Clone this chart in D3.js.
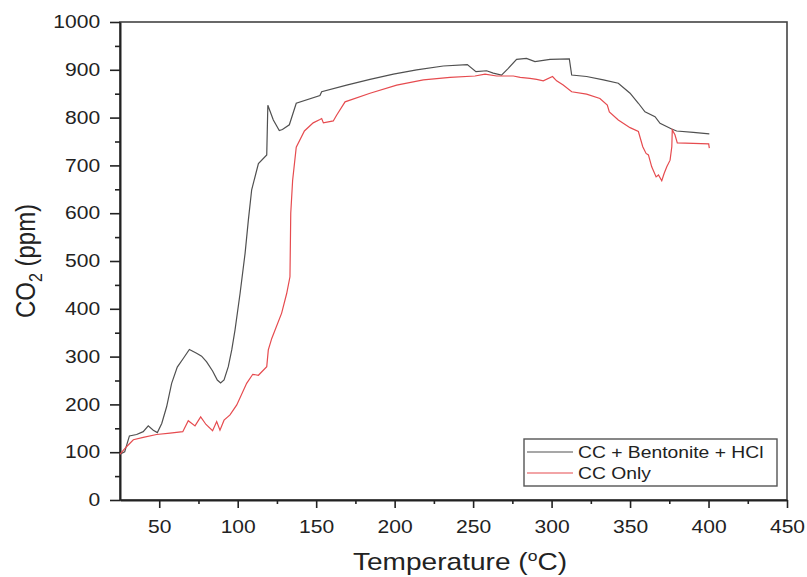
<!DOCTYPE html>
<html>
<head>
<meta charset="utf-8">
<script src="https://cdn.jsdelivr.net/npm/d3@7"></script>
<style>
  body { margin: 0; background: #fff; }
  text { font-family: "Liberation Sans", Arial, sans-serif; fill: #222; }
</style>
</head>
<body>
<div id="container"></div>
<script>
let w = 807;
let h = 577;
// text in the picture is a bit wider than normal Arial
let stretch = 1.17;

// CC + Bentonite + HCl (black)
let tempBH = [25, 28, 31, 35.6, 39.8, 43, 46.2, 48.8, 51.6, 54.7, 57.9, 61.5, 65.3, 69.2, 73.8, 77, 80.2, 84, 87, 89.1, 91.3, 94, 96.2, 98.3,
  101.5, 104.7, 106.8, 108.9, 113.2, 118.5, 119.2, 122.7, 126.5, 128.5, 132.9, 137.3, 152.4, 153.5, 169.4, 184.3, 199.2, 214, 231, 246.3,
  251.8, 258.6, 262.8, 268.1, 272.4, 277.7, 284, 289.4, 299, 311.3, 312.8, 322.3, 333, 342.5, 350, 355.3, 359.5, 365.9, 369.1, 376.5,
  379.7, 390.3, 400.5];
let co2BH = [96, 101, 134, 137, 143, 155, 146, 141, 160, 195, 244, 278, 296, 315, 307, 301, 289, 270, 251, 245, 251, 279, 314, 356,
  432, 516, 586, 649, 704, 722, 826, 795, 773, 775, 785, 830, 846, 854, 868, 880, 891, 900, 908, 911,
  896, 898, 893, 889, 903, 922, 924, 917, 922, 923, 889, 886, 879, 872, 851, 830, 812, 802, 788, 776,
  772, 769, 766];

// CC Only (red)
let tempCC = [25, 29.3, 33.5, 39.8, 48.3, 56.9, 65, 68.5, 72.8, 76.4, 79.8, 84, 86.6, 88.7, 91.3, 95.1, 99.4, 105.7, 109.6, 113.2, 118.5,
  119.5, 121.7, 128, 131.2, 133.3, 133.8, 135, 137.3, 142.5, 148.1, 152.4, 153.5, 154.6, 160.9, 163, 168.4, 184.3, 201.3, 218.3, 235.3,
  251.2, 257.6, 265, 275.6, 280, 286.2, 290.5, 294.7, 300.6, 303.2, 307.4, 312.8, 322.3, 330.8, 335.5, 336.8, 342.5, 350, 355.3, 358.1,
  360.2, 361.7, 363.8, 366.6, 368.1, 370.2, 371.7, 373.4, 375.5, 376.6, 376.9, 378.6, 380.1, 390.3, 400.1, 400.5];
let co2CC = [96, 112, 126, 131, 137, 140, 143, 166, 155, 174, 158, 145, 164, 146, 167, 178, 199, 244, 263, 261, 279,
  314, 338, 391, 432, 467, 600, 669, 738, 772, 789, 796, 798, 789, 793, 805, 833, 851, 868, 879, 884,
  887, 891, 887, 887, 884, 882, 880, 877, 886, 877, 868, 854, 849, 840, 826, 812, 795, 779, 771, 739,
  725, 722, 697, 676, 680, 668, 683, 697, 711, 739, 774, 764, 747, 746, 745, 736];

let seriesNames = ["CC + Bentonite + HCl", "CC Only"];
let seriesColors = ["#505050", "#e64b4f"];

let xTicks = [50, 100, 150, 200, 250, 300, 350, 400, 450];
let yTicks = [0, 100, 200, 300, 400, 500, 600, 700, 800, 900, 1000];

let padLeft = 120, padRight = 787, padTop = 22, padBottom = 500;

let viz = d3.select("#container").append("svg")
  .attr("width", w)
  .attr("height", h);

let xScale = d3.scaleLinear().domain([25, 450]).range([padLeft, padRight]);
let yScale = d3.scaleLinear().domain([0, 1000]).range([padBottom, padTop]);

// frame top / right
viz.append("rect")
  .attr("x", padLeft).attr("y", padTop)
  .attr("width", padRight - padLeft).attr("height", padBottom - padTop)
  .attr("fill", "none").attr("stroke", "#444").attr("stroke-width", 1.6);

// minor ticks
let xMinor = xTicks.map(d => d - 25).filter(d => d > 25);
let yMinor = yTicks.slice(0, -1).map(d => d + 50);
viz.append("g").attr("transform", "translate(0," + padBottom + ")")
  .call(d3.axisBottom(xScale).tickValues(xMinor).tickSize(4).tickFormat(""))
  .call(g => g.select(".domain").remove());
viz.append("g").attr("transform", "translate(" + padLeft + ",0)")
  .call(d3.axisLeft(yScale).tickValues(yMinor).tickSize(5).tickFormat(""))
  .call(g => g.select(".domain").remove());

// major axes
let xAxisGroup = viz.append("g").attr("transform", "translate(0," + padBottom + ")")
  .call(d3.axisBottom(xScale).tickValues(xTicks).tickSize(8).tickPadding(12).tickSizeOuter(0).tickFormat(d3.format("d")));
let yAxisGroup = viz.append("g").attr("transform", "translate(" + padLeft + ",0)")
  .call(d3.axisLeft(yScale).tickValues(yTicks).tickSize(10).tickPadding(7).tickSizeOuter(0).tickFormat(d3.format("d")));

viz.selectAll(".tick line").attr("stroke", "#222").attr("stroke-width", 1.6);
viz.selectAll(".domain").attr("stroke", "#222").attr("stroke-width", 2);
viz.selectAll(".tick text")
  .style("font-size", "18px")
  .attr("fill", "#222")
  .attr("transform", "scale(" + stretch + ",1)");

// lines
let line = d3.line().x(d => xScale(d[0])).y(d => yScale(d[1]));
let dataBH = tempBH.map((t, i) => [t, co2BH[i]]);
let dataCC = tempCC.map((t, i) => [t, co2CC[i]]);

viz.append("path").datum(dataBH).attr("d", line)
  .attr("fill", "none").attr("stroke", seriesColors[0]).attr("stroke-width", 1.2);
viz.append("path").datum(dataCC).attr("d", line)
  .attr("fill", "none").attr("stroke", seriesColors[1]).attr("stroke-width", 1.2);

// axis titles
let xTitle = viz.append("text")
  .attr("transform", "translate(460,570) scale(" + stretch + ",1)")
  .attr("text-anchor", "middle")
  .style("font-size", "24px");
xTitle.append("tspan").text("Temperature (");
xTitle.append("tspan").text("o").attr("dy", -9).style("font-size", "15px");
xTitle.append("tspan").text("C)").attr("dy", 9);

let yTitle = viz.append("text")
  .attr("transform", "translate(35,261) rotate(-90) scale(1," + stretch + ")")
  .attr("text-anchor", "middle")
  .style("font-size", "24px");
yTitle.append("tspan").text("CO");
yTitle.append("tspan").text("2").attr("dy", 6).style("font-size", "16px");
yTitle.append("tspan").text(" (ppm)").attr("dy", -6);

// legend
let legend = viz.append("g").attr("transform", "translate(524,439)");
legend.append("rect")
  .attr("width", 253).attr("height", 47)
  .attr("fill", "#fff").attr("stroke", "#555").attr("stroke-width", 1.4);
seriesNames.forEach((name, i) => {
  let yy = 13 + i * 21;
  legend.append("line")
    .attr("x1", 3).attr("x2", 49).attr("y1", yy).attr("y2", yy)
    .attr("stroke", seriesColors[i]).attr("stroke-width", 1.2);
  legend.append("text")
    .attr("transform", "translate(54," + (yy + 6) + ") scale(" + stretch + ",1)")
    .style("font-size", "16.5px")
    .text(name);
});
</script>
</body>
</html>
